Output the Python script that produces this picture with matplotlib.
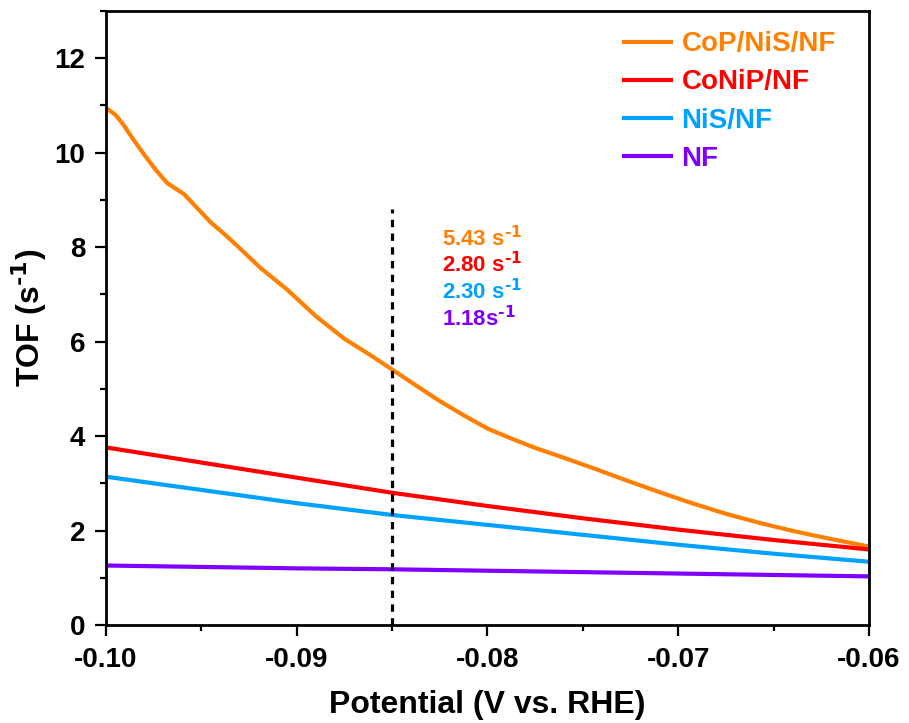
import numpy as np
import matplotlib
matplotlib.use("Agg")
import matplotlib.pyplot as plt
from matplotlib.ticker import MultipleLocator, FormatStrFormatter

plt.rcParams['font.family'] = ['Liberation Sans', 'DejaVu Sans']
plt.rcParams['font.weight'] = 'bold'
plt.rcParams['mathtext.default'] = 'bf'
plt.rcParams['axes.unicode_minus'] = False

# ---------- data ----------
labels = ["CoP/NiS/NF", "CoNiP/NF", "NiS/NF", "NF"]
colors = ["#FF8000", "#FF0000", "#00A2FF", "#8000FF"]

x_cop = [-0.1000, -0.0995, -0.0991, -0.0986, -0.0980, -0.0974, -0.0968, -0.0959,
         -0.0952, -0.0945, -0.0938, -0.0931, -0.0919, -0.0905, -0.0890, -0.0875,
         -0.0862, -0.0850, -0.0837, -0.0825, -0.0812, -0.0800, -0.0787, -0.0775,
         -0.0762, -0.07445, -0.0727, -0.07096, -0.06921, -0.06746, -0.06571,
         -0.06397, -0.06222, -0.06047, -0.0600]
y_cop = [10.95, 10.80, 10.60, 10.30, 9.96, 9.64, 9.36, 9.12,
         8.82, 8.52, 8.28, 8.02, 7.56, 7.10, 6.54, 6.06,
         5.73, 5.41, 5.06, 4.74, 4.43, 4.16, 3.94, 3.75,
         3.57, 3.32, 3.06, 2.81, 2.57, 2.35, 2.16,
         1.99, 1.84, 1.70, 1.66]

x_lin = [-0.100, -0.095, -0.090, -0.085, -0.080, -0.075, -0.070, -0.065, -0.060]
y_conip = [3.76, 3.44, 3.12, 2.80, 2.52, 2.26, 2.02, 1.80, 1.60]
y_nis = [3.14, 2.86, 2.58, 2.33, 2.12, 1.91, 1.70, 1.51, 1.34]
y_nf = [1.26, 1.23, 1.20, 1.18, 1.15, 1.12, 1.09, 1.06, 1.03]

mark_x = -0.085
mark_top = 8.8
tof_text = ["5.43 s$^{\\text{-}1}$", "2.80 s$^{\\text{-}1}$",
            "2.30 s$^{\\text{-}1}$", "1.18s$^{\\text{-}1}$"]
text_x = -0.0824
text_y = [8.18, 7.63, 7.06, 6.49]

# ---------- plot ----------
fig = plt.figure(figsize=(9.09, 7.23), dpi=100)
ax = fig.add_axes([0.1166, 0.1355, 0.8394, 0.8493])

series = [(x_cop, y_cop), (x_lin, y_conip), (x_lin, y_nis), (x_lin, y_nf)]
for (xs, ys), lab, c in zip(series, labels, colors):
    ax.plot(xs, ys, color=c, lw=3, label=lab, solid_capstyle='butt', solid_joinstyle='round')

ax.vlines(mark_x, 0, mark_top, colors='black', lw=2.3, linestyles=(0, (2.3, 2.0)))

for t, yv, c in zip(tof_text, text_y, colors):
    ax.text(text_x, yv, t, color=c, fontsize=16, fontweight='bold', ha='left', va='center')

ax.set_xlim(-0.10, -0.06)
ax.set_ylim(0, 13)
ax.xaxis.set_major_locator(MultipleLocator(0.01))
ax.xaxis.set_minor_locator(MultipleLocator(0.005))
ax.xaxis.set_major_formatter(FormatStrFormatter('%.2f'))
ax.yaxis.set_major_locator(MultipleLocator(2))
ax.yaxis.set_minor_locator(MultipleLocator(1))

ax.tick_params(which='major', direction='out', length=8, width=1.6, labelsize=20, pad=7)
ax.tick_params(which='minor', direction='out', length=4, width=1.6)
ax.tick_params(axis='x', pad=8)
for s in ax.spines.values():
    s.set_linewidth(2)

ax.set_xlabel("Potential (V vs. RHE)", fontsize=23, fontweight='bold', labelpad=12)
ax.set_ylabel("TOF (s$^{\\text{-}1}$)", fontsize=23, fontweight='bold', labelpad=4)

leg = ax.legend(loc='upper left', bbox_to_anchor=(0.676, 0.967), frameon=False,
                fontsize=20, handlelength=1.83, handletextpad=0.32, labelspacing=0.44,
                borderpad=0, borderaxespad=0, labelcolor='linecolor')
for txt in leg.get_texts():
    txt.set_fontweight('bold')

fig.savefig("out.png", dpi=100)
